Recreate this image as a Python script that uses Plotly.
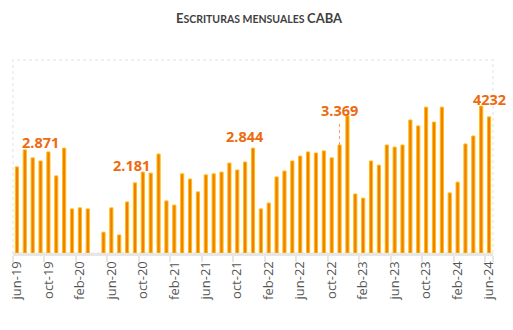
import plotly.graph_objects as go

months = ["jun-19","jul-19","ago-19","sep-19","oct-19","nov-19","dic-19",
          "ene-20","feb-20","mar-20","abr-20","may-20","jun-20","jul-20","ago-20","sep-20","oct-20","nov-20","dic-20",
          "ene-21","feb-21","mar-21","abr-21","may-21","jun-21","jul-21","ago-21","sep-21","oct-21","nov-21","dic-21",
          "ene-22","feb-22","mar-22","abr-22","may-22","jun-22","jul-22","ago-22","sep-22","oct-22","nov-22","dic-22",
          "ene-23","feb-23","mar-23","abr-23","may-23","jun-23","jul-23","ago-23","sep-23","oct-23","nov-23","dic-23",
          "ene-24","feb-24","mar-24","abr-24","may-24","jun-24"]

escrituras = [2480, 2970, 2740, 2650, 2910, 2220, 3020,
              1270, 1300, 1270, None, 600, 1300, 520, 1470, 2020, 2330, 2300, 2850,
              1500, 1380, 2280, 2130, 1760, 2250, 2280, 2330, 2590, 2390, 2620, 3020,
              1270, 1440, 2190, 2360, 2650, 2790, 2910, 2880, 2940, 2740, 3110, 3950,
              1700, 1580, 2650, 2530, 3110, 3050, 3110, 3830, 3660, 4200, 3770, 4200,
              1730, 2040, 3140, 3370, 4232, 3920]

tick_labels = ["jun-19","oct-19","feb-20","jun-20","oct-20","feb-21","jun-21","oct-21",
               "feb-22","jun-22","oct-22","feb-23","jun-23","oct-23","feb-24","jun-24"]

# highlighted labels: (category anchor, text)
label_cats = ["sep-19", "sep-20", "nov-21", "nov-22", "jun-24"]
label_texts = ["2.871", "2.181", "2.844", "3.369", "4232"]
label_yshift = [18, 17, 26, 35, 17]
label_xshift = [0, -3, 0, 0, 0]

YMAX = 5558
PLOT_H = 193

fig = go.Figure()
fig.add_trace(go.Bar(
    x=months, y=escrituras,
    marker=dict(color="#F07E00", line=dict(color="#FFBC10", width=1)),
    hoverinfo="x+y",
))

annotations = []
for c, t, ys, xs in zip(label_cats, label_texts, label_yshift, label_xshift):
    v = escrituras[months.index(c)]
    annotations.append(dict(
        x=c, y=v, xref="x", yref="y", text="<b>%s</b>" % t, showarrow=False,
        yshift=ys, xshift=xs, yanchor="middle", xanchor="center",
        font=dict(family="Open Sans", size=14.5, color="#EE6A0E"),
    ))

annotations.append(dict(
    x=0.5, y=1, xref="paper", yref="paper", yanchor="top", xanchor="center",
    xshift=6, yshift=60 - 8,
    text="<b><span style='font-size:13px'>E</span>SCRITURAS MENSUALES <span style='font-size:13px'>CABA</span></b>",
    showarrow=False, font=dict(family="Lato", size=10.5, color="#3F3F3F"),
))

shapes = []
# dotted leader line for the 3.369 label
dc = "nov-22"
dv = escrituras[months.index(dc)]
shapes.append(dict(type="line", xref="x", yref="y", x0=dc, x1=dc,
                   y0=dv, y1=dv + 22 * YMAX / PLOT_H,
                   line=dict(color="#F0A060", width=1, dash="dot")))
# light plot frame
shapes.append(dict(type="rect", xref="paper", yref="paper", x0=0, x1=1, y0=0, y1=1,
                   line=dict(color="#F0F0F0", width=2, dash="dot"), layer="below"))

fig.update_layout(
    width=513, height=330,
    margin=dict(l=13, r=20, t=60, b=77, autoexpand=False),
    paper_bgcolor="white", plot_bgcolor="white",
    showlegend=False,
    bargap=0.6,
    annotations=annotations,
    shapes=shapes,
    xaxis=dict(
        type="category", categoryorder="array", categoryarray=months,
        range=[-0.5, len(months) - 0.5], automargin=False,
        tickmode="array", tickvals=tick_labels, ticktext=tick_labels,
        tickson="boundaries", ticks="outside", ticklen=6, tickwidth=2, tickcolor="#E6E6E6",
        tickangle=-90, tickfont=dict(family="Open Sans", size=13, color="#555555"),
        showline=True, linecolor="#E6E6E6", linewidth=3,
        showgrid=False, zeroline=False,
    ),
    yaxis=dict(range=[0, YMAX], visible=False, showgrid=False, zeroline=False, automargin=False),
)

fig.write_html("out.html")
